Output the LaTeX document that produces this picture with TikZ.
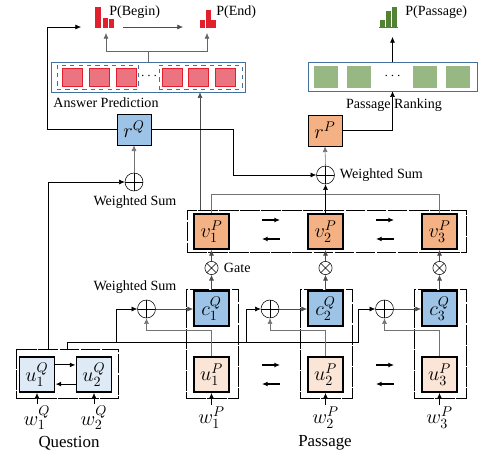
\documentclass[tikz,border=0pt]{standalone}
\usepackage{fontspec}
\setmainfont{Liberation Serif}
\usetikzlibrary{arrows.meta}

\definecolor{qblue}{HTML}{9DC3E6}
\definecolor{qlight}{HTML}{DEEBF7}
\definecolor{porange}{HTML}{F4B183}
\definecolor{plight}{HTML}{FBE5D6}
\definecolor{ared}{HTML}{E0202C}
\definecolor{apink}{HTML}{EC7480}
\definecolor{rgreen}{HTML}{98B883}
\definecolor{bgreen}{HTML}{548235}
\definecolor{fblue}{HTML}{41719C}

\tikzset{
  cell/.style={draw,line width=1.4pt,minimum size=0.875cm,inner sep=0pt,font=\Large},
  rbox/.style={draw,minimum width=0.85cm,minimum height=0.78cm,inner sep=0pt,font=\Large},
  grp/.style={draw,dash pattern=on 14pt off 1pt,inner sep=0pt},
  sum/.style={circle,draw,minimum size=0.45cm,inner sep=0pt,
    path picture={\draw (path picture bounding box.north) -- (path picture bounding box.south)
      (path picture bounding box.west) -- (path picture bounding box.east);}},
  gate/.style={circle,draw,minimum size=0.33cm,inner sep=0pt,
    path picture={\draw (path picture bounding box.north west) -- (path picture bounding box.south east)
      (path picture bounding box.south west) -- (path picture bounding box.north east);}},
  asq/.style={draw=ared,fill=apink,minimum width=0.49cm,minimum height=0.45cm,inner sep=0pt},
  gsq/.style={fill=rgreen,minimum width=0.6cm,minimum height=0.55cm,inner sep=0pt},
  word/.style={font=\Large,inner sep=1pt}
}

\begin{document}
\begin{tikzpicture}[x=0.025cm,y=0.025cm,>={Latex[length=4pt,width=3.5pt]}]
\useasboundingbox (0,0) rectangle (497,460);

% output bars
\fill[ared] (95,432) rectangle (101,453);
\fill[ared] (102.5,432) rectangle (108,442);
\fill[ared] (108.5,432) rectangle (114,441);
\fill[ared] (200,432) rectangle (205,440);
\fill[ared] (205.5,432) rectangle (210.5,450);
\fill[ared] (211,432) rectangle (216,440);
\fill[bgreen] (380,433) rectangle (385,440);
\fill[bgreen] (386,433) rectangle (391,449);
\fill[bgreen] (392,433) rectangle (397,453);
\draw[bgreen,thin] (379,432.5) -- (398,432.5);
\node[anchor=west,inner sep=0pt] (tbegin) at (109,448) {P(Begin)};
\node[anchor=west,inner sep=0pt] (tend) at (216,448) {P(End)};
\node[anchor=west,inner sep=0pt] (tpass) at (405,448) {P(Passage)};
\coordinate (pb) at (81,433);
\coordinate (pbr) at (123,433);
\coordinate (pe) at (183,433);
\coordinate (pbu) at (106,427);
\coordinate (peu) at (207,427);
\coordinate (pp) at (392.5,423);

% answer prediction
\node[draw=fblue,minimum width=4.85cm,minimum height=0.75cm] (ans) at (148,383) {};
\node[draw=fblue,dashed,minimum width=2.025cm,minimum height=0.6cm] (ans1) at (97.5,383) {};
\node[draw=fblue,dashed,minimum width=2.075cm,minimum height=0.6cm] (ans2) at (200.5,383) {};
\foreach \x [count=\i] in {72,99,126.5,172.5,198.5,225}
  \node[asq] (a\i) at (\x,383) {};
\node (adots) at (149,384) {$\cdots$};
\node (tans) at (106,357) {Answer Prediction};

% passage ranking
\node[draw=fblue,minimum width=4.225cm,minimum height=0.725cm] (rank) at (392.5,383.5) {};
\foreach \x [count=\i] in {326,359,425,458}
  \node[gsq] (g\i) at (\x,383) {};
\node (rdots) at (392.5,384) {$\cdots$};
\node (trank) at (394,355) {Passage Ranking};

% r boxes and sums
\node[rbox,fill=qblue] (rq) at (134,330.5) {$r^Q$};
\node[rbox,fill=porange] (rp) at (325,329.5) {$r^P$};
\node[sum] (sq) at (134,278) {};
\node[sum] (sp) at (325.5,285) {};
\node (tsq) at (135,258) {Weighted Sum};
\node[anchor=west] (tsp) at (335,285) {Weighted Sum};

% passage
\node[grp,minimum width=6.975cm,minimum height=1.05cm] (vrow) at (326.5,229) {};
\foreach \x [count=\i] in {211.5,325.5,439.5}{
  \node[grp,minimum width=1.3cm,minimum height=2.725cm] (col\i) at (\x+0.5,116.5) {};
  \node[cell,fill=porange] (v\i) at (\x,228.5) {$v_{\i}^P$};
  \node[gate] (gt\i) at (\x,192) {};
  \node[cell,fill=qblue] (c\i) at (\x,151.5) {$c_{\i}^Q$};
  \node[cell,fill=plight] (up\i) at (\x,85.5) {$u_{\i}^P$};
  \node[word] (wp\i) at (\x,42) {$w_{\i}^P$};
  \draw[->] (wp\i.north) -- (up\i.south);
  \draw[->,black!70] (c\i.north) -- (gt\i.south);
  \draw[->,black!70] (gt\i.north) -- (v\i.south);
}
\node[anchor=west] (tgate) at (219,192) {Gate};
\node[sum] (s1) at (146.5,151) {};
\node[sum] (s2) at (270,151) {};
\node[sum] (s3) at (384.5,151) {};
\node (tsc) at (135,173) {Weighted Sum};
\node[font=\large] (tpsg) at (325,17) {Passage};

% question
\node[grp,minimum width=2.55cm,minimum height=1.225cm] (qbox) at (67,86.5) {};
\node[cell,fill=qlight] (uq1) at (37,85.5) {$u_1^Q$};
\node[cell,fill=qlight] (uq2) at (94,85.5) {$u_2^Q$};
\node[word] (wq1) at (37,42) {$w_1^Q$};
\node[word] (wq2) at (94,42) {$w_2^Q$};
\node[font=\large] (tq) at (69,17) {Question};
\draw[->] (wq1.north) -- (uq1.south);
\draw[->] (wq2.north) -- (uq2.south);
\draw[->,thick] ([yshift=0.24cm]uq1.east) -- ([yshift=0.24cm]uq2.west);
\draw[<-,thick] ([yshift=-0.24cm]uq1.east) -- ([yshift=-0.24cm]uq2.west);

% rnn directions
\foreach \x in {262,376}{
  \draw[->,thick] (\x,240) -- (\x+18,240);
  \draw[<-,thick] (\x,221) -- (\x+18,221);
  \draw[->,thick] (\x,95) -- (\x+18,95);
  \draw[<-,thick] (\x,76) -- (\x+18,76);
}

% attention to passage
\coordinate (qline) at (358,118);
\coordinate (b1) at (116,118);
\coordinate (b2) at (246,118);
\draw[->] (qbox.north) |- (qline) |- (s3.west);
\draw[->] (b1) |- (s1.west);
\draw[->] (b2) |- (s2.west);
\foreach \i in {1,2,3}{
  \draw[->,black!55] (up\i.north) -- ++(0,26) -| (s\i.south);
  \draw[->,black!70] (s\i.east) -- (s\i.east -| c\i.west);
}

% upper connections
\draw[->] ([xshift=-0.475cm]qbox.north) |- (sq.west);
\draw[->,black!55] (sq.north) -- (rq.south);
\draw[->] (rq.west) -| ([xshift=-0.85cm]pb) -- (pb);
\draw[->,black!70] (pbr) -- (pe);
\draw[->,black!60] (ans.north) -- ++(0,10) -| (pbu);
\draw[->,black!60] (ans.north) -- ++(0,10) -| (peu);
\draw[->,black!70] (vrow.north -| 200,0) -- (ans.south -| 200,0);
\draw[black!55] (v1.north) -- ++(0,19) -| (v3.north);
\draw[->] (v2.north) -- (sp.south);
\draw[->] (rq.east) -- ++(82,0) |- (sp.west);
\draw[->,black!55] (sp.north) -- (rp.south);
\draw[->] (rp.east) -| (rank.south);
\draw[->] (rank.north) -- (pp);
\end{tikzpicture}
\end{document}
